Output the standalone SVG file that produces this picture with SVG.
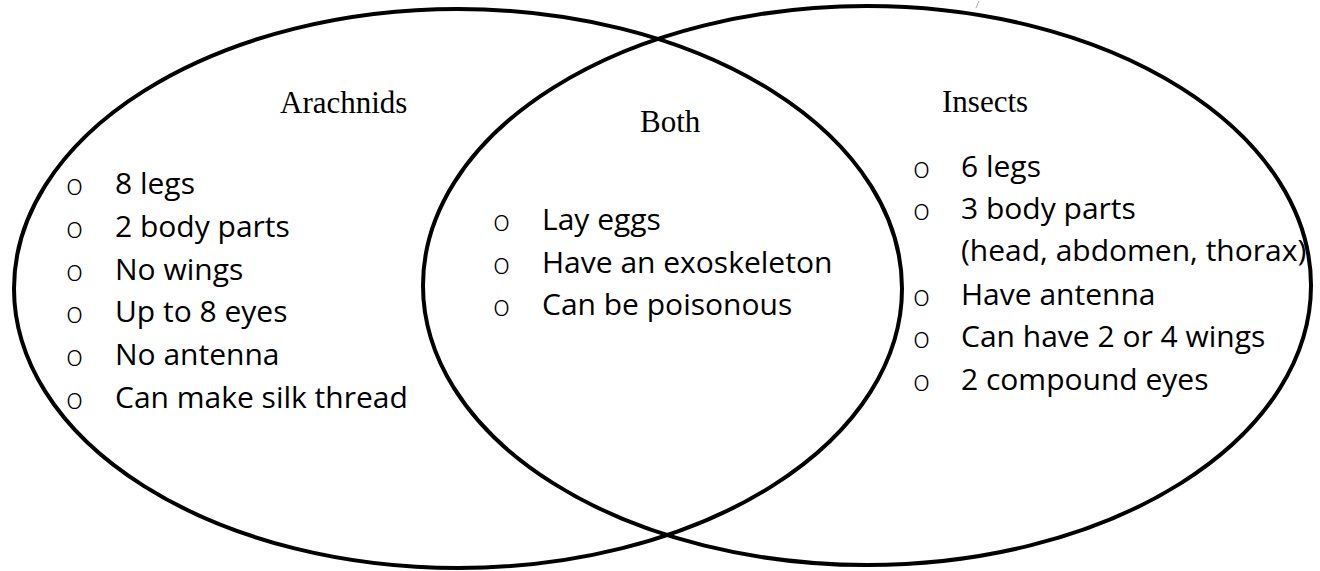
<svg xmlns="http://www.w3.org/2000/svg" width="1320" height="571" viewBox="0 0 1320 571">
<style>
.ring{fill:none;stroke:#000;stroke-width:4}
.title{font-family:"Liberation Serif","Times New Roman",serif;font-size:31px;fill:#000}
.item{font-family:"Open Sans","Noto Sans",sans-serif;font-size:30px;fill:#000}
.bul{font-family:"Open Sans","Noto Sans",sans-serif;font-weight:300;font-size:29px;fill:#000}
</style>
<rect width="1320" height="571" fill="#fff"/>
<line x1="976" y1="8" x2="979" y2="1" stroke="#aaa" stroke-width="1"/>
<g id="arachnids">
<ellipse class="ring" cx="458" cy="288.5" rx="444" ry="279.5"/>
<text class="title" x="280" y="113">Arachnids</text>
<g class="bul">
<text x="66" y="195">o</text><text x="66" y="238">o</text><text x="66" y="281">o</text><text x="66" y="323">o</text><text x="66" y="366">o</text><text x="66" y="409">o</text>
</g>
<g class="item">
<text x="115" y="194">8 legs</text>
<text x="115" y="237">2 body parts</text>
<text x="115" y="280">No wings</text>
<text x="115" y="322">Up to 8 eyes</text>
<text x="115" y="365">No antenna</text>
<text x="115" y="408">Can make silk thread</text>
</g>
</g>
<g id="insects">
<ellipse class="ring" cx="867" cy="285.5" rx="444" ry="279.5"/>
<text class="title" x="942" y="112">Insects</text>
<g class="bul">
<text x="913" y="178">o</text><text x="913" y="220">o</text><text x="913" y="306">o</text><text x="913" y="348">o</text><text x="913" y="391">o</text>
</g>
<g class="item">
<text x="961" y="177">6 legs</text>
<text x="961" y="219">3 body parts</text>
<text x="961" y="261">(head, abdomen, thorax)</text>
<text x="961" y="305">Have antenna</text>
<text x="961" y="347">Can have 2 or 4 wings</text>
<text x="961" y="390">2 compound eyes</text>
</g>
</g>
<g id="both">
<text class="title" x="640" y="132">Both</text>
<g class="bul">
<text x="493" y="231">o</text><text x="493" y="274">o</text><text x="493" y="316">o</text>
</g>
<g class="item">
<text x="542" y="230">Lay eggs</text>
<text x="542" y="273">Have an exoskeleton</text>
<text x="542" y="315">Can be poisonous</text>
</g>
</g>
<g id="connectors"></g>
</svg>
